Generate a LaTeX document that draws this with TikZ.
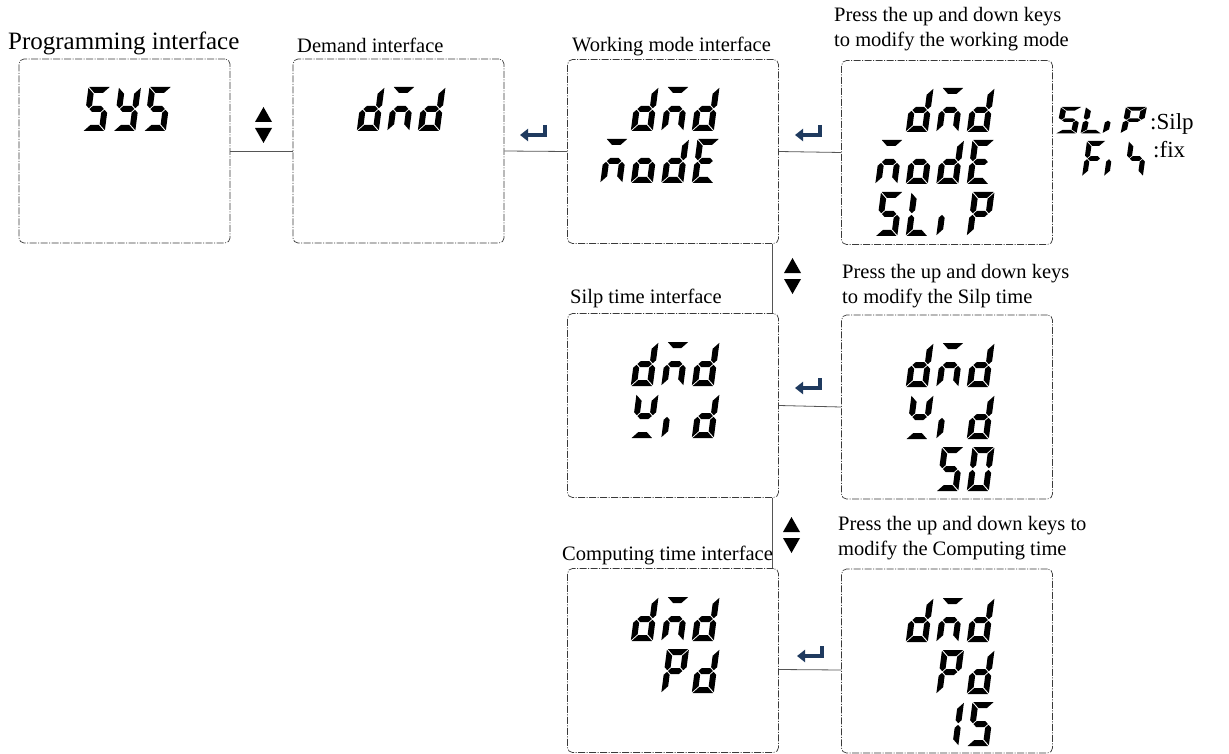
\documentclass[tikz,border=0pt]{standalone}
\usepackage{fontspec}
\setmainfont{Liberation Serif}
\usetikzlibrary{arrows.meta}
\definecolor{bordergray}{HTML}{3A3A3A}
\definecolor{linegray}{HTML}{555555}
\definecolor{entnavy}{HTML}{1F3A5F}
% seven-segment pieces, cell 22 x 44, y downward, T=6, mid=22, gap=0.8
\newcommand\SGa{\fill (0.8,0) -- (21.2,0) -- (15.2,6) -- (6.8,6) -- cycle;}
\newcommand\SGd{\fill (0.8,44) -- (21.2,44) -- (15.2,38) -- (6.8,38) -- cycle;}
\newcommand\SGf{\fill (0,0.8) -- (6,6.8) -- (6,18.2) -- (3,21.2) -- (0,18.2) -- cycle;}
\newcommand\SGb{\fill (22,0.8) -- (16,6.8) -- (16,18.2) -- (19,21.2) -- (22,18.2) -- cycle;}
\newcommand\SGe{\fill (0,43.2) -- (6,37.2) -- (6,25.8) -- (3,22.8) -- (0,25.8) -- cycle;}
\newcommand\SGc{\fill (22,43.2) -- (16,37.2) -- (16,25.8) -- (19,22.8) -- (22,25.8) -- cycle;}
\newcommand\SGg{\fill (3.8,22) -- (6.8,19) -- (15.2,19) -- (18.2,22) -- (15.2,25) -- (6.8,25) -- cycle;}
% one glyph: x, y (top-left), xscale, yscale, segments
\newcommand\glyph[5]{%
  \begin{scope}[shift={({#1},{#2})},xscale=#3,yscale=#4,xslant=0.13]
    \foreach \s in {#5}{\csname SG\s\endcsname}
  \end{scope}}
% glyph in a box display: box left, box top, row, cell, segments
\newcommand\disp[5]{\glyph{#1+39+30.5*(#4-1)}{#2+28+52*(#3-1)}{1}{1}{#5}}
\newcommand\upkey[2]{%
  \fill ({#1},{#2+15}) -- ({#1+8.5},{#2}) -- ({#1+17},{#2+15}) -- cycle;
  \fill ({#1},{#2+21}) -- ({#1+8.5},{#2+36}) -- ({#1+17},{#2+21}) -- cycle;}
\newcommand\enterkey[2]{%
  \draw[entstyle] ({#1+25},{#2}) -- ({#1+25},{#2+10}) -- ({#1},{#2+10});}
\begin{document}
\begin{tikzpicture}[x=1pt,y=-1pt,
  box/.style={draw=bordergray,line width=0.7pt,rounded corners=5pt,
    dash pattern=on 7pt off 1.5pt on 1pt off 1.5pt,minimum width=211pt,
    minimum height=184pt,inner sep=0pt},
  link/.style={draw=linegray,line width=0.8pt},
  lbl/.style={anchor=base west,inner sep=0pt,font=\fontsize{20.5}{25}\selectfont},
  entstyle/.style={draw=entnavy,line width=3.4pt,
    -{Triangle[length=8pt,width=12pt]}}]
\useasboundingbox (0,0) rectangle (1229,754);
% boxes
\node[box] (b1) at (124.5,151) {};
\node[box] (b2) at (398.5,151) {};
\node[box] (b3) at (673,151.5) {};
\node[box] (b4) at (947,152.5) {};
\node[box] (b5) at (673,405.5) {};
\node[box] (b6) at (947,407) {};
\node[box] (b7) at (673,660.5) {};
\node[box] (b8) at (947,661) {};
% connectors
\draw[link] (b1.east) -- (b2.west);
\draw[link] (b2.east) -- (b3.west);
\draw[link] (b3.east) -- (b4.west);
\draw[link] (b5.east) -- (b6.west);
\draw[link] ([yshift=-9pt]b7.east) -- ([yshift=-9pt]b8.west);
\draw[link] ([xshift=-6pt]b3.south east) -- ([xshift=-6pt]b5.north east);
\draw[link] ([xshift=-6pt]b5.south east) -- ([xshift=-6pt]b7.north east);
% keys
\upkey{255}{107}
\upkey{784}{258}
\upkey{783}{517}
\enterkey{520}{125}
\enterkey{795}{125}
\enterkey{795}{378}
\enterkey{797}{646}
% labels
\node[lbl,font=\fontsize{25}{30}\selectfont] (t1) at (8,50) {Programming interface};
\node[lbl] (t2) at (297,53) {Demand interface};
\node[lbl] (t3) at (572,52) {Working mode interface};
\node[lbl] (t4a) at (834,22) {Press the up and down keys};
\node[lbl] (t4b) at (834,47) {to modify the working mode};
\node[lbl] (t5) at (570,303) {Silp time interface};
\node[lbl] (t6a) at (842,279) {Press the up and down keys};
\node[lbl] (t6b) at (842,303) {to modify the Silp time};
\node[lbl] (t7) at (562,560) {Computing time interface};
\node[lbl] (t8a) at (838,530) {Press the up and down keys to};
\node[lbl] (t8b) at (838,555) {modify the Computing time};
\node[lbl,font=\fontsize{23}{28}\selectfont] (t9) at (1150,130) {:Silp};
\node[lbl,font=\fontsize{23}{28}\selectfont] (t10) at (1153,158) {:fix};
% box 1: SYS
\disp{19}{59}{1}{2}{a,f,g,c,d}
\disp{19}{59}{1}{3}{f,b,g,c,d}
\disp{19}{59}{1}{4}{a,f,g,c,d}
% box 2: dmd
\disp{293}{59}{1}{2}{b,c,d,e,g}
\disp{293}{59}{1}{3}{a,e,g,c}
\disp{293}{59}{1}{4}{b,c,d,e,g}
% box 3: dmd / modE
\disp{567}{59}{1}{2}{b,c,d,e,g}
\disp{567}{59}{1}{3}{a,e,g,c}
\disp{567}{59}{1}{4}{b,c,d,e,g}
\disp{567}{59}{2}{1}{a,e,g,c}
\disp{567}{59}{2}{2}{c,d,e,g}
\disp{567}{59}{2}{3}{b,c,d,e,g}
\disp{567}{59}{2}{4}{a,f,g,e,d}
% box 4: dmd / modE / SLiP
\disp{842}{60}{1}{2}{b,c,d,e,g}
\disp{842}{60}{1}{3}{a,e,g,c}
\disp{842}{60}{1}{4}{b,c,d,e,g}
\disp{842}{60}{2}{1}{a,e,g,c}
\disp{842}{60}{2}{2}{c,d,e,g}
\disp{842}{60}{2}{3}{b,c,d,e,g}
\disp{842}{60}{2}{4}{a,f,g,e,d}
\disp{842}{60}{3}{1}{a,f,g,c,d}
\disp{842}{60}{3}{2}{f,e,d}
\disp{842}{60}{3}{3}{e}
\disp{842}{60}{3}{4}{a,b,f,g,e}
% box 5: dmd / wid
\disp{567}{314}{1}{2}{b,c,d,e,g}
\disp{567}{314}{1}{3}{a,e,g,c}
\disp{567}{314}{1}{4}{b,c,d,e,g}
\disp{567}{314}{2}{2}{f,b,g,d}
\disp{567}{314}{2}{3}{e}
\disp{567}{314}{2}{4}{b,c,d,e,g}
% box 6: dmd / wid / 50
\disp{842}{315}{1}{2}{b,c,d,e,g}
\disp{842}{315}{1}{3}{a,e,g,c}
\disp{842}{315}{1}{4}{b,c,d,e,g}
\disp{842}{315}{2}{2}{f,b,g,d}
\disp{842}{315}{2}{3}{e}
\disp{842}{315}{2}{4}{b,c,d,e,g}
\disp{842}{315}{3}{3}{a,f,g,c,d}
\disp{842}{315}{3}{4}{a,b,c,d,e,f}
% box 7: dmd / Pd
\disp{567}{569}{1}{2}{b,c,d,e,g}
\disp{567}{569}{1}{3}{a,e,g,c}
\disp{567}{569}{1}{4}{b,c,d,e,g}
\disp{567}{569}{2}{3}{a,b,f,g,e}
\disp{567}{569}{2}{4}{b,c,d,e,g}
% box 8: dmd / Pd / 15
\disp{842}{570}{1}{2}{b,c,d,e,g}
\disp{842}{570}{1}{3}{a,e,g,c}
\disp{842}{570}{1}{4}{b,c,d,e,g}
\disp{842}{570}{2}{3}{a,b,f,g,e}
\disp{842}{570}{2}{4}{b,c,d,e,g}
\disp{842}{570}{3}{3}{b,c}
\disp{842}{570}{3}{4}{a,f,g,c,d}
% legend beside box 4
\glyph{1061}{107}{0.95}{0.6}{a,f,g,c,d}
\glyph{1086}{107}{0.95}{0.6}{f,e,d}
\glyph{1108}{107}{0.95}{0.6}{e}
\glyph{1126}{107}{0.95}{0.6}{a,b,f,g,e}
\glyph{1087}{141}{0.85}{0.8}{a,f,g,e}
\glyph{1109}{141}{0.85}{0.8}{e}
\glyph{1129}{141}{0.85}{0.8}{f,g,c}
\end{tikzpicture}
\end{document}
